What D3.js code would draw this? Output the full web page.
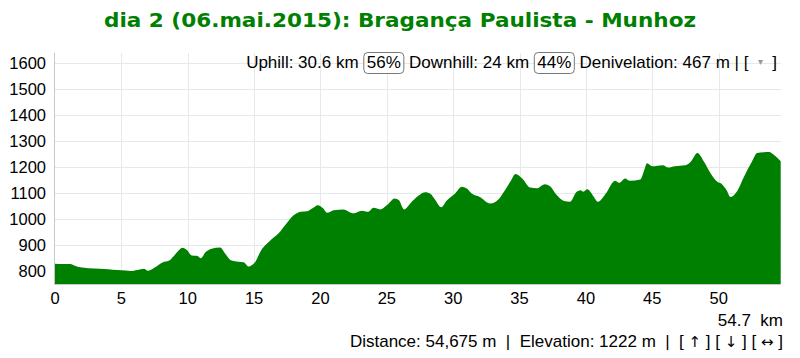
<!DOCTYPE html>
<html><head><meta charset="utf-8">
<script src="https://cdn.jsdelivr.net/npm/d3@7"></script>
<style>body{margin:0;background:#fff}svg{display:block}</style>
</head><body>
<svg id="c" width="800" height="358"></svg>
<script>
const titleText = "dia 2 (06.mai.2015): Bragança Paulista - Munhoz";
const distKm = [0,0.5,1.16,1.5,1.9,2.5,3.4,4.0,4.7,5.3,5.7,6.2,6.7,7.0,7.4,8.1,8.6,8.9,9.3,9.6,9.95,10.3,10.7,11.0,11.3,11.8,12.45,12.8,13.3,13.8,14.2,14.6,14.84,15.1,15.47,16.2,16.85,17.35,18.0,18.5,19.0,19.4,19.8,20.2,20.5,21.0,21.7,22.5,23.1,23.6,24.0,24.5,25.0,25.6,25.9,26.3,26.8,27.4,27.9,28.3,28.65,29.1,29.5,30.15,30.65,31.0,31.4,32.0,32.8,33.4,33.9,34.3,34.7,35.2,35.8,36.3,36.9,37.3,37.8,38.3,38.8,39.3,39.6,39.8,40.1,40.6,40.9,41.5,42.2,42.5,42.95,43.3,44.1,44.4,44.6,45.0,45.8,46.2,46.7,47.5,47.9,48.4,48.9,49.4,49.9,50.25,50.6,50.9,51.4,51.9,52.5,52.9,53.4,53.8,54.2,54.675];
const elevM = [828,827,827,820,814,811,809,807,804,802,800,804,809,801,810,833,840,855,878,889,880,860,859,849,870,886,890,868,840,836,834,817,823,836,874,916,945,977,1015,1028,1030,1041,1053,1041,1024,1034,1037,1022,1032,1028,1043,1037,1053,1079,1073,1037,1062,1090,1103,1096,1073,1045,1070,1098,1124,1118,1098,1085,1060,1075,1111,1143,1173,1156,1121,1118,1134,1126,1092,1070,1066,1105,1111,1105,1114,1085,1066,1098,1147,1139,1156,1147,1152,1188,1214,1203,1207,1198,1203,1207,1220,1254,1220,1175,1143,1134,1111,1085,1108,1162,1220,1254,1257,1258,1245,1222];
const xTicks = [0,5,10,15,20,25,30,35,40,45,50];
const yTicks = [800,900,1000,1100,1200,1300,1400,1500,1600];
const infoParts = [["Uphill: 30.6 km ",false],["56%",true],[" Downhill: 24 km ",false],["44%",true],[" Denivelation: 467 m | [  ",false],["▾",false,true],["  ]",false]];
const endLabel = "54.7  km";
const statusParts = ["Distance: 54,675 m  |  Elevation: 1222 m  |  [ ", "↑", " ] [ ", "↓", " ] [ ", "↔", " ]"];

const svg = d3.select("#c");
const FONT = "'Liberation Sans', Arial, sans-serif";
const L = 55, R = 780.7, T = 50, B = 284;
const x = d3.scaleLinear().domain([0, 54.675]).range([L, R]);
const y = d3.scaleLinear().domain([750, 1650]).range([B, T]);

svg.append("text").attr("x", 400).attr("y", 27).attr("text-anchor", "middle")
  .attr("font-family", "'DejaVu Sans', Verdana, sans-serif").attr("font-weight", "bold")
  .attr("font-size", 19.5).attr("fill", "#008000").attr("textLength", 592).attr("lengthAdjust","spacingAndGlyphs")
  .text(titleText);

// grid
const g = svg.append("g");
g.selectAll(".hg").data(yTicks).join("line")
  .attr("x1", L).attr("x2", R).attr("y1", d => Math.round(y(d)) + 0.5).attr("y2", d => Math.round(y(d)) + 0.5)
  .attr("stroke", "#e8e8e8");
g.selectAll(".vg").data(xTicks.filter(d => d > 0)).join("line")
  .attr("y1", 53).attr("y2", B).attr("x1", d => Math.round(x(d)) + 0.5).attr("x2", d => Math.round(x(d)) + 0.5)
  .attr("stroke", "#e8e8e8");

const data = distKm.map((d, i) => [d, elevM[i]]);
const area = d3.area().x(d => x(d[0])).y0(B).y1(d => y(d[1])).curve(d3.curveMonotoneX);
svg.append("path").datum(data).attr("d", area).attr("fill", "#008000");

// axes lines
svg.append("line").attr("x1", L - 0.5).attr("x2", L - 0.5).attr("y1", 53).attr("y2", B + 1).attr("stroke", "#c8c8c8");
svg.append("line").attr("x1", L).attr("x2", R).attr("y1", B + 0.5).attr("y2", B + 0.5).attr("stroke", "#c8c8c8");

// y labels
svg.selectAll(".yl").data(yTicks).join("text")
  .attr("x", 46).attr("y", d => y(d) + 6).attr("text-anchor", "end")
  .attr("font-family", FONT).attr("font-size", 16.5).attr("fill", "#000").text(d => d);
// x labels
svg.selectAll(".xl").data(xTicks).join("text")
  .attr("x", d => x(d)).attr("y", 304).attr("text-anchor", "middle")
  .attr("font-family", FONT).attr("font-size", 16.5).attr("fill", "#000").text(d => d);

// info line
const info = svg.append("g");
let cx = 0;
infoParts.forEach(([t, boxed, tri]) => {
  const tx = info.append("text").attr("x", cx).attr("y", 0).attr("font-family", FONT)
    .attr("font-size", tri ? 10 : 17).attr("fill", tri ? "#999" : "#000")
    .style("white-space", "pre").text(t);
  let w = tx.node().getComputedTextLength();
  if (tri) tx.attr("y", -3);
  if (boxed) {
    info.insert("rect", "text").attr("x", cx + 0.5).attr("y", -15.5).attr("width", w + 6).attr("height", 21)
      .attr("rx", 4).attr("fill", "#fff").attr("stroke", "#777");
    tx.attr("x", cx + 3.5);
    w += 7;
  }
  cx += w;
});
info.attr("transform", `translate(${777 - cx},68)`);

svg.append("text").attr("x", 783).attr("y", 326).attr("text-anchor", "end")
  .attr("font-family", FONT).attr("font-size", 17).style("white-space", "pre").text(endLabel);
const st = svg.append("text").attr("x", 783).attr("y", 347).attr("text-anchor", "end")
  .attr("font-family", FONT).attr("font-size", 17).attr("fill", "#000").style("white-space", "pre");
st.selectAll("tspan").data(statusParts).join("tspan")
  .attr("font-family", (d, i) => i % 2 ? "'DejaVu Sans', sans-serif" : FONT)
  .attr("font-size", (d, i) => i % 2 ? 15 : 17)
  .attr("fill", "#000").text(d => d);
</script>
</body></html>
